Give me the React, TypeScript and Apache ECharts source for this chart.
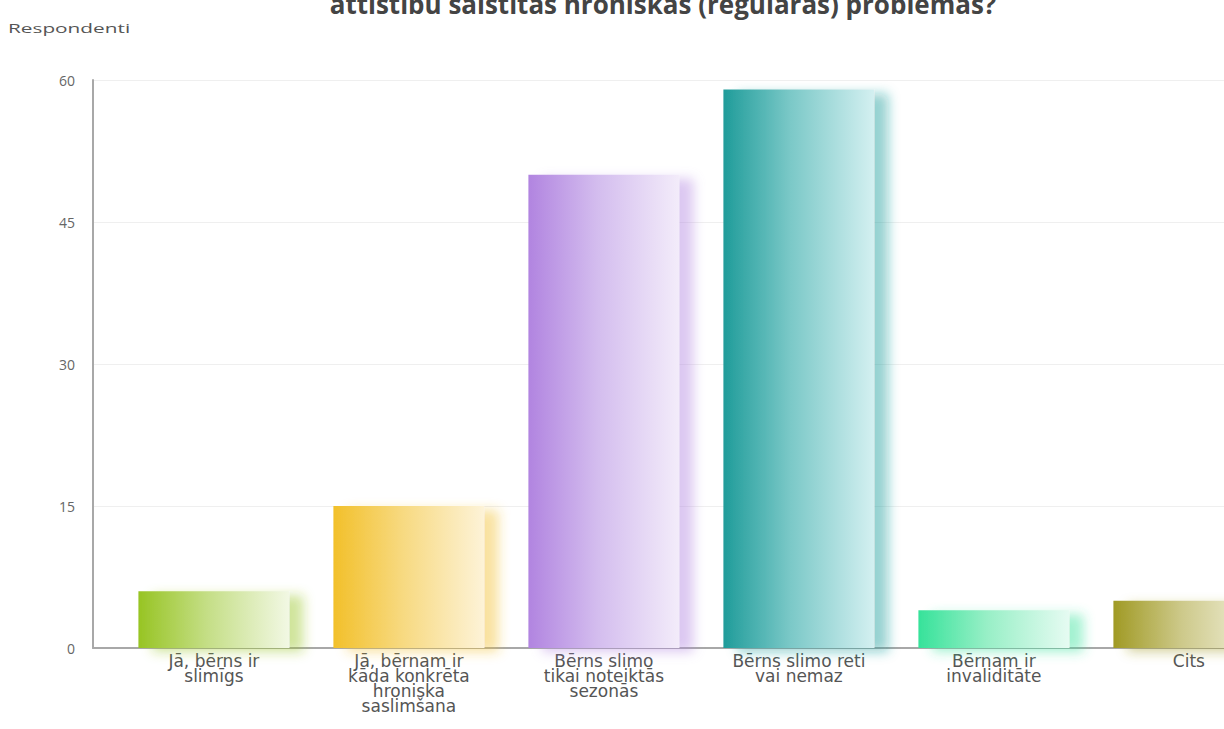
import React, { useEffect, useRef } from "react";
import * as echarts from "echarts";

const titleText = "attīstību saistītas hroniskas (regulāras) problēmas?";
const yAxisName = "Respondenti";
const categories = [
  "Jā, bērns ir\nslimīgs",
  "Jā, bērnam ir\nkāda konkrēta\nhroniska\nsaslimšana",
  "Bērns slimo\ntikai noteiktās\nsezonās",
  "Bērns slimo reti\nvai nemaz",
  "Bērnam ir\ninvaliditāte",
  "Cits",
];
const values = [6, 15, 50, 59, 4, 5];
const strongColors = ["#97c423", "#f2c02a", "#b184e0", "#1f9c9a", "#36e29a", "#a09a24"];
const midColors = ["#c4de85", "#f7d97f", "#d3bcee", "#7cc9c8", "#97efc6", "#cdc98a"];
const paleColors = ["#f2f8e4", "#fdf3d8", "#f3ecfa", "#d4f0f1", "#e6fbf2", "#f5f4e2"];
const shadowColors = [
  "rgba(151,196,35,0.45)",
  "rgba(242,192,42,0.45)",
  "rgba(177,132,224,0.45)",
  "rgba(31,156,154,0.45)",
  "rgba(54,226,154,0.45)",
  "rgba(160,154,36,0.45)",
];

export default function App() {
  const ref = useRef<HTMLDivElement>(null);
  useEffect(() => {
    if (!ref.current) return;
    const chart = echarts.init(ref.current, null, { renderer: "svg" });
    chart.setOption({
      animation: false,
      backgroundColor: "#ffffff",
      title: {
        text: titleText,
        left: 658,
        textAlign: "center",
        top: -14,
        textStyle: { fontFamily: "Open Sans", fontSize: 26, fontWeight: "bold", color: "#444" },
      },
      graphic: [
        {
          type: "text",
          x: 8,
          y: 21,
          scaleX: 1.6,
          style: { text: yAxisName, fontFamily: "Open Sans", fontSize: 13, fill: "#555" },
        },
      ],
      grid: { left: 93, right: 0, top: 80, bottom: 81, containLabel: false },
      xAxis: {
        type: "value",
        min: -0.62,
        max: 5.18,
        axisLine: { show: true, onZero: false, lineStyle: { color: "#a8a8a8", width: 2 } },
        axisTick: { show: false },
        splitLine: { show: false },
        axisLabel: {
          customValues: [0, 1, 2, 3, 4, 5],
          formatter: (v: number) => categories[Math.round(v)] ?? "",
          color: "#555",
          fontFamily: "DejaVu Sans",
          fontSize: 17,
          lineHeight: 15,
          margin: 5,
          verticalAlign: "top",
        },
      },
      yAxis: {
        type: "value",
        min: 0,
        max: 60,
        interval: 15,
        axisLine: { show: true, onZero: false, lineStyle: { color: "#a8a8a8", width: 2 } },
        axisTick: { show: false },
        splitLine: { show: true, lineStyle: { color: "#efefef", width: 1 } },
        axisLabel: { color: "#666", fontFamily: "Open Sans", fontSize: 14, margin: 18 },
      },
      series: [
        {
          type: "bar",
          barWidth: 151,
          data: values.map((v, i) => ({
            value: [i, v],
            itemStyle: {
              color: new echarts.graphic.LinearGradient(0, 0, 1, 0, [
                { offset: 0, color: strongColors[i] },
                { offset: 0.45, color: midColors[i] },
                { offset: 1, color: paleColors[i] },
              ]),
              shadowColor: shadowColors[i],
              shadowBlur: 12,
              shadowOffsetX: 14,
              shadowOffsetY: 4,
            },
          })),
        },
      ],
    });
    return () => chart.dispose();
  }, []);
  return (
    <div
      ref={ref}
      style={{ position: "fixed", left: 0, top: 0, width: 1224, height: 729 }}
    />
  );
}
